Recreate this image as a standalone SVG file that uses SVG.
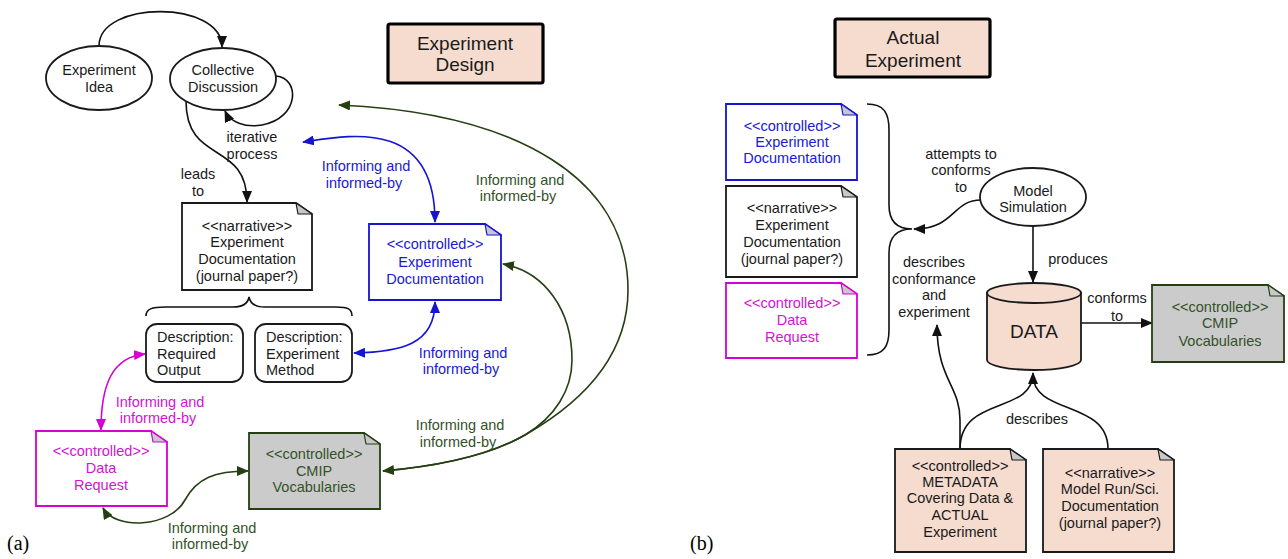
<svg xmlns="http://www.w3.org/2000/svg" width="1288" height="559" viewBox="0 0 1288 559">
<style>
text{font-family:"Liberation Sans",Arial,sans-serif;font-size:14.5px;fill:#1a1a1a;text-anchor:middle}
.lbl{font-family:"Liberation Serif","Times New Roman",serif;font-size:20px;text-anchor:start;fill:#000}
.title{font-size:19px}
.blue{fill:#1a1ad6}.mag{fill:#d214d2}.grn{fill:#34522a}
.st{text-anchor:start}
.node{stroke:#1a1a1a;stroke-width:1.8;fill:#fff}
.tb{fill:#f5dccf;stroke:#000;stroke-width:3.2}
.fold{fill:#c8c8c8;stroke-width:1.2;stroke-linejoin:round}
.doc{stroke-width:1.8;stroke-linejoin:miter}
.c{fill:none;stroke-width:1.6}
.k{stroke:#111}.b{stroke:#1414d2}.m{stroke:#d400d4}.g{stroke:#243f12}
</style>
<defs>
<marker id="ak" viewBox="0 0 12 10" refX="11" refY="5" markerWidth="12" markerHeight="10" markerUnits="userSpaceOnUse" orient="auto-start-reverse"><path d="M0,0 L12,5 L0,10 z" fill="#111"/></marker>
<marker id="ab" viewBox="0 0 12 10" refX="11" refY="5" markerWidth="12" markerHeight="10" markerUnits="userSpaceOnUse" orient="auto-start-reverse"><path d="M0,0 L12,5 L0,10 z" fill="#1414d2"/></marker>
<marker id="am" viewBox="0 0 12 10" refX="11" refY="5" markerWidth="12" markerHeight="10" markerUnits="userSpaceOnUse" orient="auto-start-reverse"><path d="M0,0 L12,5 L0,10 z" fill="#d400d4"/></marker>
<marker id="ag" viewBox="0 0 12 10" refX="11" refY="5" markerWidth="12" markerHeight="10" markerUnits="userSpaceOnUse" orient="auto-start-reverse"><path d="M0,0 L12,5 L0,10 z" fill="#243f12"/></marker>
</defs>

<!-- connectors -->
<g id="connectors">
<path class="c k" d="M99,46 C99,0 222,0 222,47" marker-end="url(#ak)"/>
<path class="c k" d="M276,76 C300,78 300,118 262,125 C245,128 230,122 225,111" marker-end="url(#ak)"/>
<path class="c k" d="M186,101 C186,165 247,140 247,202" marker-end="url(#ak)"/>
<path class="c b" d="M303,142 C350,135 435,118 435,222" marker-start="url(#ab)" marker-end="url(#ab)"/>
<path class="c b" d="M435,302 C435,345 400,352 354,353" marker-start="url(#ab)" marker-end="url(#ab)"/>
<path class="c m" d="M101,430 C101,385 112,357 145,354" marker-start="url(#am)" marker-end="url(#am)"/>
<path class="c g" d="M103,508 C115,530 170,528 185,500 C197,478 215,471 248,471" marker-start="url(#ag)" marker-end="url(#ag)"/>
<path class="c g" d="M383,471 C440,466 490,455 525,435 C555,417 572,390 572,360 C572,310 545,272 503,264" marker-start="url(#ag)" marker-end="url(#ag)"/>
<path class="c g" d="M383,471 C440,466 490,455 525,435 C560,415 628,370 628,290 C628,180 520,113 339,105" marker-end="url(#ag)"/>
<path class="c k" d="M146,316 C146,309 152,307 165,307 L233,307 C243,307 248,303 249,297 C250,303 255,307 265,307 L336,307 C348,307 352,309 352,316"/>

<path class="c k" d="M867,104 C884,104 889,113 889,130 L889,205 C889,221 897,229 912,229 C897,229 889,237 889,253 L889,330 C889,346 884,355 867,355"/>
<path class="c k" d="M981,200 C952,200 955,229 914,229" marker-end="url(#ak)"/>
<path class="c k" d="M1033,226 L1033,282" marker-end="url(#ak)"/>
<path class="c k" d="M1081,323 L1152,323" marker-end="url(#ak)"/>
<path class="c k" d="M960,449 L960,420 C960,385 937,380 937,325" marker-end="url(#ak)"/>
<path class="c k" d="M960,449 C960,395 1033,415 1033,373" marker-end="url(#ak)"/>
<path class="c k" d="M1108,449 C1108,400 1033,415 1033,375"/>
</g>

<!-- connector labels -->
<g id="labels">
<text x="252" y="142">iterative</text><text x="252" y="159">process</text>
<text x="198" y="179">leads</text><text x="198" y="196">to</text>
<text class="blue" x="366" y="171">Informing and</text><text class="blue" x="364" y="188">informed-by</text>
<text class="blue" x="463" y="358">Informing and</text><text class="blue" x="461" y="374">informed-by</text>
<text class="mag" x="160" y="407">Informing and</text><text class="mag" x="158" y="423">informed-by</text>
<text class="grn" x="212" y="533">Informing and</text><text class="grn" x="210" y="549">informed-by</text>
<text class="grn" x="520" y="185">Informing and</text><text class="grn" x="518" y="201">informed-by</text>
<text class="grn" x="460" y="430">Informing and</text><text class="grn" x="458" y="447">informed-by</text>
<text x="961" y="159">attempts to</text><text x="961" y="175">conforms</text><text x="961" y="192">to</text>
<text x="934" y="267">describes</text><text x="934" y="284">conformance</text><text x="934" y="300">and</text><text x="934" y="317">experiment</text>
<text x="1078" y="264">produces</text>
<text x="1117" y="303">conforms</text><text x="1117" y="321">to</text>
<text x="1037" y="424">describes</text>
<text class="lbl" x="7" y="550">(a)</text>
<text class="lbl" x="690" y="550">(b)</text>
</g>

<!-- left panel nodes -->
<g id="idea"><ellipse class="node" cx="99" cy="78" rx="53" ry="32"/><text x="99" y="75">Experiment</text><text x="99" y="92">Idea</text></g>
<g id="discussion"><ellipse class="node" cx="223" cy="79" rx="53" ry="31"/><text x="223" y="75">Collective</text><text x="223" y="92">Discussion</text></g>
<g id="design-title"><rect class="tb" x="388" y="24" width="155" height="59" rx="2"/><text class="title" x="465" y="50">Experiment</text><text class="title" x="465" y="71">Design</text></g>

<g id="narrative-doc">
<path class="doc" d="M182,203 L296,203 L312,214 L312,290 L182,290 Z" fill="#fff" stroke="#1a1a1a"/>
<path class="fold" d="M296,203 L298,214 L312,214 Z" stroke="#1a1a1a"/>
<text x="247" y="231">&lt;&lt;narrative&gt;&gt;</text><text x="247" y="247">Experiment</text><text x="247" y="264">Documentation</text><text x="247" y="281">(journal paper?)</text>
</g>
<g id="desc-output"><rect class="node" x="146" y="324" width="97" height="58" rx="11"/><text class="st" x="157" y="342">Description:</text><text class="st" x="157" y="359">Required</text><text class="st" x="157" y="375">Output</text></g>
<g id="desc-method"><rect class="node" x="255" y="324" width="97" height="58" rx="11"/><text class="st" x="266" y="342">Description:</text><text class="st" x="266" y="359">Experiment</text><text class="st" x="266" y="375">Method</text></g>

<g id="ctrl-doc-left">
<path class="doc" d="M369,224 L485,224 L501,235 L501,300 L369,300 Z" fill="#fff" stroke="#1414d2"/>
<path class="fold" d="M485,224 L487,235 L501,235 Z" fill="#c4c4e0" stroke="#1414d2"/>
<text class="blue" x="435" y="249">&lt;&lt;controlled&gt;&gt;</text><text class="blue" x="435" y="267">Experiment</text><text class="blue" x="435" y="284">Documentation</text>
</g>
<g id="datareq-left">
<path class="doc" d="M36,431 L151,431 L167,442 L167,506 L36,506 Z" fill="#fff" stroke="#d400d4"/>
<path class="fold" d="M151,431 L153,442 L167,442 Z" stroke="#d400d4"/>
<text class="mag" x="101" y="456">&lt;&lt;controlled&gt;&gt;</text><text class="mag" x="101" y="473">Data</text><text class="mag" x="101" y="490">Request</text>
</g>
<g id="cmip-left">
<path class="doc" d="M249,433 L364,433 L380,444 L380,509 L249,509 Z" fill="#cbcbcb" stroke="#243f12"/>
<path class="fold" d="M364,433 L366,444 L380,444 Z" fill="#bdbdbd" stroke="#243f12"/>
<text class="grn" x="314" y="459">&lt;&lt;controlled&gt;&gt;</text><text class="grn" x="314" y="476">CMIP</text><text class="grn" x="314" y="492">Vocabularies</text>
</g>

<!-- right panel nodes -->
<g id="actual-title"><rect class="tb" x="835" y="19" width="155" height="58" rx="2"/><text class="title" x="913" y="44">Actual</text><text class="title" x="913" y="67">Experiment</text></g>
<g id="ctrl-doc-right">
<path class="doc" d="M726,104 L841,104 L857,115 L857,180 L726,180 Z" fill="#fff" stroke="#1414d2"/>
<path class="fold" d="M841,104 L843,115 L857,115 Z" fill="#c4c4e0" stroke="#1414d2"/>
<text class="blue" x="792" y="131">&lt;&lt;controlled&gt;&gt;</text><text class="blue" x="792" y="147">Experiment</text><text class="blue" x="792" y="163">Documentation</text>
</g>
<g id="narrative-doc-right">
<path class="doc" d="M726,186 L841,186 L857,197 L857,277 L726,277 Z" fill="#fff" stroke="#1a1a1a"/>
<path class="fold" d="M841,186 L843,197 L857,197 Z" stroke="#1a1a1a"/>
<text x="792" y="213">&lt;&lt;narrative&gt;&gt;</text><text x="792" y="230">Experiment</text><text x="792" y="247">Documentation</text><text x="792" y="264">(journal paper?)</text>
</g>
<g id="datareq-right">
<path class="doc" d="M726,283 L841,283 L857,294 L857,358 L726,358 Z" fill="#fff" stroke="#d400d4"/>
<path class="fold" d="M841,283 L843,294 L857,294 Z" stroke="#d400d4"/>
<text class="mag" x="792" y="308">&lt;&lt;controlled&gt;&gt;</text><text class="mag" x="792" y="325">Data</text><text class="mag" x="792" y="342">Request</text>
</g>
<g id="model-sim"><ellipse class="node" cx="1033" cy="197" rx="53" ry="29"/><text x="1033" y="196">Model</text><text x="1033" y="212">Simulation</text></g>
<g id="data">
<path d="M987,293 L987,360 A47,10 0 0 0 1081,360 L1081,293 Z" fill="#f5dccf" stroke="#1a1a1a" stroke-width="1.8"/>
<ellipse cx="1034" cy="293" rx="47" ry="10" fill="#f5dccf" stroke="#1a1a1a" stroke-width="1.8"/>
<text x="1034" y="338" style="font-size:19px">DATA</text>
</g>
<g id="cmip-right">
<path class="doc" d="M1152,285 L1268,285 L1284,296 L1284,362 L1152,362 Z" fill="#cbcbcb" stroke="#243f12"/>
<path class="fold" d="M1268,285 L1270,296 L1284,296 Z" fill="#bdbdbd" stroke="#243f12"/>
<text class="grn" x="1220" y="312">&lt;&lt;controlled&gt;&gt;</text><text class="grn" x="1220" y="328">CMIP</text><text class="grn" x="1220" y="346">Vocabularies</text>
</g>
<g id="metadata">
<path class="doc" d="M895,449 L1010,449 L1026,460 L1026,552 L895,552 Z" fill="#f5dccf" stroke="#1a1a1a"/>
<path class="fold" d="M1010,449 L1012,460 L1026,460 Z" stroke="#1a1a1a"/>
<text x="960" y="471">&lt;&lt;controlled&gt;&gt;</text><text x="960" y="487">METADATA</text><text x="960" y="503">Covering Data &amp;</text><text x="960" y="520">ACTUAL</text><text x="960" y="537">Experiment</text>
</g>
<g id="model-run-doc">
<path class="doc" d="M1043,449 L1158,449 L1174,460 L1174,552 L1043,552 Z" fill="#f5dccf" stroke="#1a1a1a"/>
<path class="fold" d="M1158,449 L1160,460 L1174,460 Z" stroke="#1a1a1a"/>
<text x="1110" y="478">&lt;&lt;narrative&gt;&gt;</text><text x="1110" y="494">Model Run/Sci.</text><text x="1110" y="511">Documentation</text><text x="1110" y="528">(journal paper?)</text>
</g>
</svg>
